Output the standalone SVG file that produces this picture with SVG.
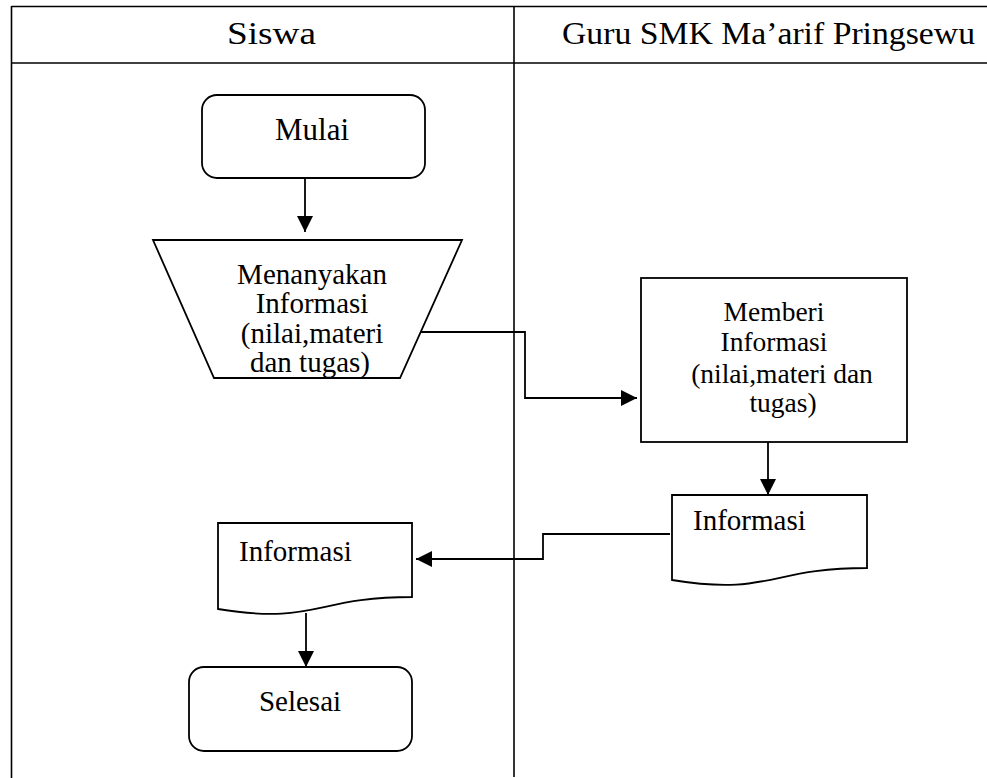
<svg xmlns="http://www.w3.org/2000/svg" width="987" height="778" viewBox="0 0 987 778">
<style>
  .t { font-family: "Liberation Serif", "Times New Roman", serif; font-size: 29px; fill: #000; }
  .c { text-anchor: middle; }
  .h { font-size: 32px; }
  .m { font-size: 27.5px; }
  .shape { fill: #fff; stroke: #000; stroke-width: 1.8; }
  .grid { stroke: #000; stroke-width: 1.6; fill: none; }
  .conn { stroke: #000; stroke-width: 1.8; fill: none; }
</style>
<defs>
  <marker id="arr" viewBox="0 0 16 16" refX="16" refY="8" markerWidth="16" markerHeight="16" markerUnits="userSpaceOnUse" orient="auto">
    <path d="M0,0 L16,8 L0,16 Z" fill="#000"/>
  </marker>
</defs>
<rect width="987" height="778" fill="#fff"/>
<g id="table">
  <line class="grid" x1="11.5" y1="6.5" x2="987" y2="6.5"/>
  <line class="grid" x1="11.5" y1="63" x2="987" y2="63"/>
  <line class="grid" x1="11.5" y1="6" x2="11.5" y2="778"/>
  <line class="grid" x1="514" y1="6" x2="514" y2="777" stroke-width="1.3"/>
  <text class="t h" x="227" y="44" textLength="89" lengthAdjust="spacingAndGlyphs">Siswa</text>
  <text class="t h" x="562" y="44" textLength="413" lengthAdjust="spacingAndGlyphs">Guru SMK Ma’arif Pringsewu</text>
</g>
<g id="connectors">
  <line class="conn" x1="305" y1="178" x2="305" y2="232" marker-end="url(#arr)"/>
  <polyline class="conn" points="412,332 525,332 525,398 637,398" marker-end="url(#arr)"/>
  <line class="conn" x1="768" y1="442" x2="768" y2="495" marker-end="url(#arr)"/>
  <polyline class="conn" points="670,534 543,534 543,559 416,559" marker-end="url(#arr)"/>
  <line class="conn" x1="306" y1="613" x2="306" y2="667" marker-end="url(#arr)"/>
</g>
<g id="mulai">
  <rect class="shape" x="202" y="95" width="223" height="83" rx="15" ry="15"/>
  <text class="t c" x="312" y="140" style="font-size:31px">Mulai</text>
</g>
<g id="menanyakan">
  <polygon class="shape" points="153,240 462,240 400,378 214,378"/>
  <text class="t c" x="312" y="284">Menanyakan</text>
  <text class="t c" x="312" y="313">Informasi</text>
  <text class="t c" x="312" y="343">(nilai,materi</text>
  <text class="t c" x="310" y="372">dan tugas)</text>
</g>
<g id="memberi">
  <rect class="shape" x="641" y="278" width="266" height="164"/>
  <text class="t c m" x="774" y="321">Memberi</text>
  <text class="t c m" x="774" y="351">Informasi</text>
  <text class="t c m" x="782" y="383">(nilai,materi dan</text>
  <text class="t c m" x="783" y="412">tugas)</text>
</g>
<g id="informasi-guru">
  <path class="shape" d="M672,495 H867 V568 C769.5,568 769.5,596 672,580 Z"/>
  <text class="t" x="693" y="530">Informasi</text>
</g>
<g id="informasi-siswa">
  <path class="shape" d="M218,523 H412 V597 C315,597 315,625 218,609 Z"/>
  <text class="t" x="239" y="561">Informasi</text>
</g>
<g id="selesai">
  <rect class="shape" x="189" y="667" width="223" height="84" rx="15" ry="15"/>
  <text class="t c" x="300" y="711">Selesai</text>
</g>
</svg>
